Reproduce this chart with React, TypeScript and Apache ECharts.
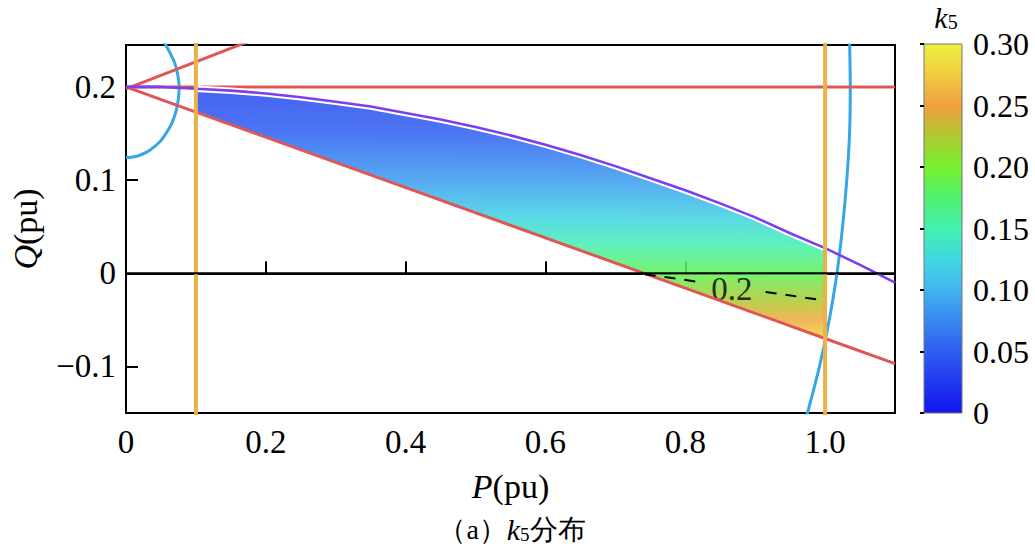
import React, { useEffect, useRef } from "react";
import * as echarts from "echarts";

// ---------- data ----------
const xTicks = [0, 0.2, 0.4, 0.6, 0.8, 1.0];
const yTicks = [-0.1, 0, 0.1, 0.2];
const cbTicks = [0, 0.05, 0.1, 0.15, 0.2, 0.25, 0.3];

// purple upper boundary (P, Q)
const purpleP = [0, 0.05, 0.1, 0.15, 0.2, 0.25, 0.3, 0.35, 0.4, 0.45, 0.5, 0.55, 0.6, 0.65, 0.7, 0.75, 0.8, 0.85, 0.9, 0.95, 1.0, 1.05, 1.1];
const purpleQ = [0.2, 0.2, 0.198, 0.196, 0.193, 0.189, 0.184, 0.179, 0.172, 0.165, 0.157, 0.148, 0.138, 0.127, 0.115, 0.102, 0.089, 0.075, 0.06, 0.043, 0.027, 0.009, -0.01];

// red straight lines
const redLower = [[0, 0.2], [0.1, 0.173], [1.0, -0.07], [1.1, -0.097]];
const redUpper = [[0, 0.198], [0.2, 0.256]];
const redHoriz = [[0, 0.2], [1.1, 0.2]];

// orange verticals
const orangeLeft = [[0.1, -0.2], [0.1, 0.3]];
const orangeRight = [[1.0, -0.2], [1.0, 0.3]];

// blue arcs
const blueLeft = [[0.054, 0.25], [0.057, 0.245], [0.064, 0.235], [0.07, 0.225], [0.074, 0.213], [0.076, 0.2], [0.075, 0.188], [0.072, 0.175], [0.066, 0.162], [0.058, 0.151], [0.047, 0.14], [0.034, 0.132], [0.024, 0.128], [0.012, 0.125], [0, 0.124]];
const blueRight = [[1.035, 0.25], [1.036, 0.2], [1.035, 0.15], [1.031, 0.1], [1.025, 0.05], [1.017, 0], [1.006, -0.05], [0.992, -0.1], [0.973, -0.155]];

// zero line
const zeroLine = [[0, 0], [1.1, 0]];

// k5 = 0.2 contour (two dashed pieces) and its label
const contourA = [[0.742, -0.001], [0.826, -0.010]];
const contourB = [[0.915, -0.020], [0.997, -0.029]];
const contourLabel = [[0.8665, -0.017]];
const contourText = "0.2";

// k5 along Q (read at P about 0.85)
const kStopQ = [0.25, 0.2, 0.15, 0.1, 0.06, 0.03, 0.0, -0.03, -0.05, -0.07, -0.1];
const kStopVal = [0.02, 0.035, 0.05, 0.085, 0.12, 0.15, 0.185, 0.225, 0.255, 0.285, 0.3];

// colormap k5 = 0 .. 0.30, step 0.025
const cmapColors = ["#1414f0", "#2038f0", "#2e5ef0", "#3888f0", "#40b4f0", "#40d8e0", "#44f0b0", "#50f070", "#78f030", "#b0c830", "#f0a040", "#f0cc40", "#eef040"];
const kMax = 0.3;

const SERIF = "Liberation Serif";

export default function App() {
  const ref = useRef<HTMLDivElement>(null);

  useEffect(() => {
    if (!ref.current) return;
    const chart = echarts.init(ref.current, undefined, { renderer: "svg" });

    const purple = purpleP.map((p, i) => [p, purpleQ[i]]);
    const purpleInner = purple.filter((d) => d[0] >= 0.1 - 1e-9 && d[0] <= 1.0 + 1e-9);
    const bottomRight = redLower.find((d) => Math.abs(d[0] - 1.0) < 1e-9)!;
    const bottomLeft = redLower.find((d) => Math.abs(d[0] - 0.1) < 1e-9)!;
    const regionPts = [...purpleInner, bottomRight, bottomLeft];

    const colorAt = (k: number) => echarts.color.lerp(Math.max(0, Math.min(1, k / kMax)), cmapColors) as string;
    const qTop = kStopQ[0];
    const qBot = kStopQ[kStopQ.length - 1];
    const regionStops = kStopQ.map((q, i) => ({ offset: (qTop - q) / (qTop - qBot), color: colorAt(kStopVal[i]) }));
    const cbStops = cmapColors.map((c, i) => ({ offset: i / (cmapColors.length - 1), color: c }));

    const lineS = (data: number[][], color: string, width: number, extra: any = {}) => ({
      type: "line",
      data,
      showSymbol: false,
      symbol: "none",
      silent: true,
      clip: true,
      lineStyle: { color, width, ...(extra.lineStyle || {}) },
      smooth: extra.smooth || false,
      xAxisIndex: 0,
      yAxisIndex: 0,
    });

    chart.setOption({
      animation: false,
      grid: [
        { left: 120, right: 140, top: 45, bottom: 137, show: true, borderColor: "#000", borderWidth: 2, backgroundColor: "transparent" },
        { left: 924, width: 38, top: 44, bottom: 137 },
      ],
      xAxis: [
        {
          type: "value",
          min: 0,
          max: 1.1,
          axisLine: { show: true, lineStyle: { color: "#000", width: 2 } },
          axisTick: { show: true, inside: true, length: 12, customValues: xTicks, lineStyle: { color: "#000", width: 2 } },
          axisLabel: { customValues: xTicks, fontFamily: SERIF, fontSize: 33, color: "#000", margin: 12, formatter: (v: number) => (v === 0 ? "0" : v.toFixed(1)) },
          splitLine: { show: false },
          name: "{i|P}(pu)",
          nameLocation: "middle",
          nameGap: 56,
          nameTextStyle: { fontFamily: SERIF, fontSize: 34, color: "#000", rich: { i: { fontStyle: "italic", fontFamily: SERIF, fontSize: 34, color: "#000" } } },
        },
        { type: "value", gridIndex: 1, min: 0, max: 1, show: false },
      ],
      yAxis: [
        {
          type: "value",
          min: -0.15,
          max: 0.245,
          axisLine: { show: true, lineStyle: { color: "#000", width: 2 } },
          axisTick: { show: true, inside: true, length: 12, customValues: yTicks, lineStyle: { color: "#000", width: 2 } },
          axisLabel: {
            customValues: yTicks,
            fontFamily: SERIF,
            fontSize: 33,
            color: "#000",
            margin: 10,
            formatter: (v: number) => (Math.abs(v) < 1e-9 ? "0" : v < 0 ? "\u2212" + Math.abs(v).toFixed(1) : v.toFixed(1)),
          },
          splitLine: { show: false },
          name: "{i|Q}(pu)",
          nameLocation: "middle",
          nameGap: 84,
          nameTextStyle: { fontFamily: SERIF, fontSize: 34, color: "#000", rich: { i: { fontStyle: "italic", fontFamily: SERIF, fontSize: 34, color: "#000" } } },
        },
        {
          type: "value",
          gridIndex: 1,
          position: "right",
          min: 0,
          max: kMax,
          interval: 0.05,
          axisLine: { show: false },
          axisTick: { show: true, inside: true, length: 4, lineStyle: { color: "#000", width: 2 } },
          axisLabel: { customValues: cbTicks, fontFamily: SERIF, fontSize: 32, color: "#000", margin: 11, formatter: (v: number) => (Math.abs(v) < 1e-9 ? "0" : v.toFixed(2)) },
          splitLine: { show: false },
        },
      ],
      series: [
        {
          type: "custom",
          xAxisIndex: 0,
          yAxisIndex: 0,
          silent: true,
          clip: true,
          z: 1,
          data: [[0.5, 0.1]],
          renderItem: (params: any, api: any) => {
            const pts = regionPts.map((p) => api.coord(p));
            const xs = pts.map((p: number[]) => p[0]);
            const ys = pts.map((p: number[]) => p[1]);
            const minX = Math.min(...xs), maxX = Math.max(...xs);
            const minY = Math.min(...ys), maxY = Math.max(...ys);
            const w = maxX - minX || 1, h = maxY - minY || 1;
            const a = api.coord([0.85, qTop]);
            const b = api.coord([0.835, qBot]);
            const grad = new echarts.graphic.LinearGradient(
              (a[0] - minX) / w, (a[1] - minY) / h, (b[0] - minX) / w, (b[1] - minY) / h, regionStops
            );
            return {
              type: "polygon",
              shape: { points: pts },
              style: { fill: grad, opacity: 0.86 },
            };
          },
        },
        lineS(blueLeft, "#35a7e6", 3, { smooth: 0.3 }),
        lineS(blueRight, "#35a7e6", 3, { smooth: 0.3 }),
        lineS(redHoriz, "#e05656", 3),
        lineS(redUpper, "#e05656", 3),
        lineS(redLower, "#e05656", 3),
        lineS(purpleInner, "#ffffff", 6.5),
        lineS(purple, "#7b3ff2", 2.6),
        lineS(orangeLeft, "#e9b347", 4),
        lineS(orangeRight, "#e9b347", 4),
        lineS(zeroLine, "#000000", 2),
        lineS(contourA, "#000000", 2, { lineStyle: { type: [11, 9] } }),
        lineS(contourB, "#000000", 2, { lineStyle: { type: [11, 9] } }),
        {
          type: "scatter",
          data: contourLabel,
          symbolSize: 1,
          silent: true,
          itemStyle: { color: "rgba(0,0,0,0)" },
          label: { show: true, position: "inside", formatter: () => contourText, fontFamily: SERIF, fontSize: 33, color: "#000" },
        },
        {
          type: "custom",
          xAxisIndex: 1,
          yAxisIndex: 1,
          silent: true,
          z: -1,
          data: [[0, 0]],
          renderItem: (params: any, api: any) => {
            const p0 = api.coord([0, kMax]);
            const p1 = api.coord([1, 0]);
            return {
              type: "rect",
              shape: { x: p0[0], y: p0[1], width: p1[0] - p0[0], height: p1[1] - p0[1] },
              style: { fill: new echarts.graphic.LinearGradient(0, 1, 0, 0, cbStops), stroke: "#777", lineWidth: 1 },
            };
          },
        },
      ],
      graphic: [
        {
          type: "text",
          x: 946,
          y: 17,
          style: {
            text: "{k|k}{s|5}",
            align: "center",
            verticalAlign: "middle",
            fontFamily: SERIF,
            fontSize: 30,
            fill: "#000",
            rich: {
              k: { fontFamily: SERIF, fontSize: 30, fontStyle: "italic", fill: "#000" },
              s: { fontFamily: SERIF, fontSize: 20, fill: "#000", verticalAlign: "bottom" },
            },
          },
        },
        {
          type: "text",
          x: 512,
          y: 529,
          style: {
            text: "{c|（a）}{k|k}{s|5}{c|分布}",
            align: "center",
            verticalAlign: "middle",
            fontFamily: SERIF,
            fontSize: 28,
            fill: "#000",
            rich: {
              c: { fontFamily: SERIF, fontSize: 28, fill: "#000" },
              k: { fontFamily: SERIF, fontSize: 30, fontStyle: "italic", fill: "#000" },
              s: { fontFamily: SERIF, fontSize: 19, fill: "#000", verticalAlign: "bottom" },
            },
          },
        },
      ],
    });

    return () => chart.dispose();
  }, []);

  return <div ref={ref} style={{ position: "fixed", left: 0, top: 0, width: 1035, height: 550, background: "#fff" }} />;
}
